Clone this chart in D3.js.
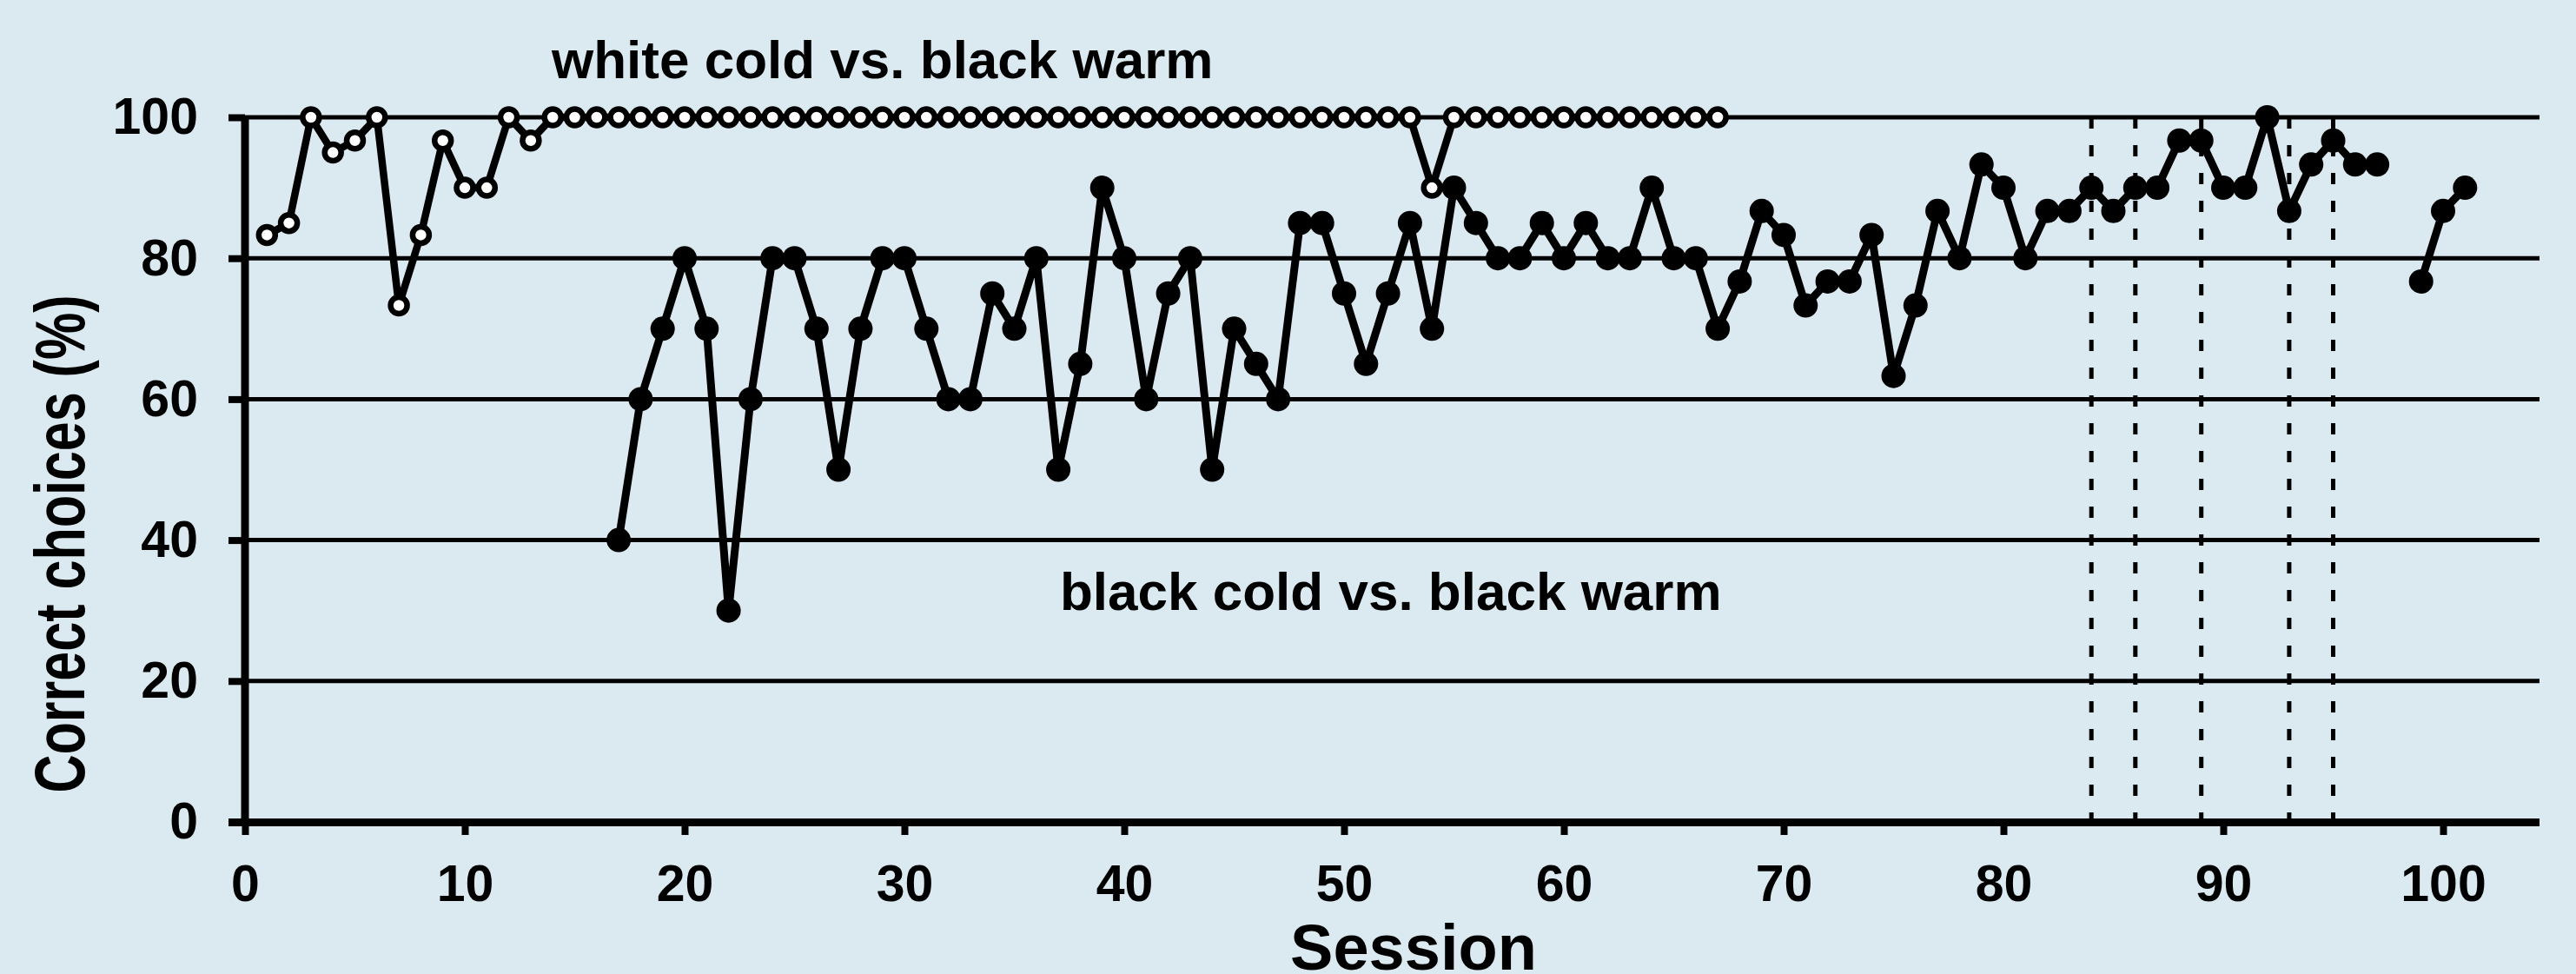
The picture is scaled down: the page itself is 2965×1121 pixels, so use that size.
<!DOCTYPE html>
<html>
<head>
<meta charset="utf-8">
<script src="https://cdn.jsdelivr.net/npm/d3@7"></script>
<style>
  body { margin: 0; background: #dbeaf0; }
  text { font-family: "Liberation Sans", Arial, sans-serif; font-weight: bold; fill: #000; }
</style>
</head>
<body>
<div id="chart"></div>
<script>
// session ticks / y ticks
var xTicks = [0, 10, 20, 30, 40, 50, 60, 70, 80, 90, 100];
var yTicks = [0, 20, 40, 60, 80, 100];

// white cold vs. black warm, sessions 1..67
var whiteStart = 1;
var whiteValues = [83.3, 85, 100, 95, 96.7, 100, 73.3, 83.3, 96.7, 90,
  90, 100, 96.7, 100, 100, 100, 100, 100, 100, 100,
  100, 100, 100, 100, 100, 100, 100, 100, 100, 100,
  100, 100, 100, 100, 100, 100, 100, 100, 100, 100,
  100, 100, 100, 100, 100, 100, 100, 100, 100, 100,
  100, 100, 100, 90, 100, 100, 100, 100, 100, 100,
  100, 100, 100, 100, 100, 100, 100];

// black cold vs. black warm, sessions 17..101 (no session 98)
var blackStart = 17;
var blackValues = [40, 60, 70, 80, 70, 30, 60, 80, 80, 70,
  50, 70, 80, 80, 70, 60, 60, 75, 70, 80,
  50, 65, 90, 80, 60, 75, 80, 50, 70, 65,
  60, 85, 85, 75, 65, 75, 85, 70, 90, 85,
  80, 80, 85, 80, 85, 80, 80, 90, 80, 80,
  70, 76.7, 86.7, 83.3, 73.3, 76.7, 76.7, 83.3, 63.3, 73.3,
  86.7, 80, 93.3, 90, 80, 86.7, 86.7, 90, 86.7, 90,
  90, 96.7, 96.7, 90, 90, 100, 86.7, 93.3, 96.7, 93.3,
  93.3, null, 76.7, 86.7, 90];

// dotted vertical markers
var markerSessions = [84, 86, 89, 93, 95];

var W = 2965, H = 1121;
var axisEnd = 2923;

var svg = d3.select("#chart").append("svg")
    .attr("width", W)
    .attr("height", H);

svg.append("rect")
    .attr("width", W)
    .attr("height", H)
    .attr("fill", "#dbeaf0");

var x = d3.scaleLinear().domain([0, 100]).range([282, 2812]);
var y = d3.scaleLinear().domain([0, 100]).range([946, 135]);

var white = whiteValues.map(function(v, i) { return {s: whiteStart + i, v: v}; });
var black = blackValues.map(function(v, i) { return {s: blackStart + i, v: v}; });

// gridlines
svg.append("g")
  .selectAll("line")
  .data(yTicks.filter(function(d) { return d > 0; }))
  .enter().append("line")
    .attr("x1", x(0))
    .attr("x2", axisEnd)
    .attr("y1", function(d) { return y(d); })
    .attr("y2", function(d) { return y(d); })
    .attr("stroke", "#000")
    .attr("stroke-width", 5);

// dotted lines
svg.append("g")
  .selectAll("line")
  .data(markerSessions)
  .enter().append("line")
    .attr("x1", function(d) { return x(d); })
    .attr("x2", function(d) { return x(d); })
    .attr("y1", y(100))
    .attr("y2", y(0))
    .attr("stroke", "#000")
    .attr("stroke-width", 5)
    .attr("stroke-dasharray", "13,19");

// y axis
var yAxis = svg.append("g")
    .attr("transform", "translate(" + x(0) + ",0)")
    .call(d3.axisLeft(y).tickValues(yTicks).tickSize(19).tickPadding(35));
yAxis.select(".domain").remove();
yAxis.selectAll(".tick line").attr("stroke", "#000").attr("stroke-width", 8);
yAxis.selectAll(".tick text")
    .attr("font-size", 59)
    .attr("font-family", "Liberation Sans, Arial, sans-serif")
    .attr("font-weight", "bold");

// x axis
var xAxis = svg.append("g")
    .attr("transform", "translate(0," + y(0) + ")")
    .call(d3.axisBottom(x).tickValues(xTicks).tickSize(15).tickPadding(34));
xAxis.select(".domain").remove();
xAxis.selectAll(".tick line").attr("stroke", "#000").attr("stroke-width", 8);
xAxis.selectAll(".tick text")
    .attr("font-size", 59)
    .attr("font-family", "Liberation Sans, Arial, sans-serif")
    .attr("font-weight", "bold");

// axis lines
svg.append("line")
    .attr("x1", 263).attr("x2", axisEnd)
    .attr("y1", y(0) + 0.5).attr("y2", y(0) + 0.5)
    .attr("stroke", "#000").attr("stroke-width", 9);
svg.append("line")
    .attr("x1", x(0)).attr("x2", x(0))
    .attr("y1", y(100) - 2).attr("y2", y(0))
    .attr("stroke", "#000").attr("stroke-width", 9);

var line = d3.line()
    .defined(function(d) { return d.v !== null; })
    .x(function(d) { return x(d.s); })
    .y(function(d) { return y(d.v); });

// black series
svg.append("path")
    .datum(black)
    .attr("fill", "none")
    .attr("stroke", "#000")
    .attr("stroke-width", 9)
    .attr("stroke-linejoin", "round")
    .attr("d", line);

svg.append("g")
  .selectAll("circle")
  .data(black.filter(function(d) { return d.v !== null; }))
  .enter().append("circle")
    .attr("cx", function(d) { return x(d.s); })
    .attr("cy", function(d) { return y(d.v); })
    .attr("r", 14)
    .attr("fill", "#000");

// white series
svg.append("path")
    .datum(white)
    .attr("fill", "none")
    .attr("stroke", "#000")
    .attr("stroke-width", 8.5)
    .attr("stroke-linejoin", "round")
    .attr("d", line);

svg.append("g")
  .selectAll("circle")
  .data(white)
  .enter().append("circle")
    .attr("cx", function(d) { return x(d.s); })
    .attr("cy", function(d) { return y(d.v); })
    .attr("r", 9.5)
    .attr("fill", "#fff")
    .attr("stroke", "#000")
    .attr("stroke-width", 6.5);

// labels
svg.append("text")
    .attr("x", 635)
    .attr("y", 90)
    .attr("font-size", 62)
    .text("white cold vs. black warm");

svg.append("text")
    .attr("x", 1220)
    .attr("y", 702)
    .attr("font-size", 62)
    .text("black cold vs. black warm");

svg.append("text")
    .attr("x", 1627)
    .attr("y", 1116)
    .attr("font-size", 74)
    .style("text-anchor", "middle")
    .text("Session");

svg.append("text")
    .attr("transform", "translate(97,626) rotate(-90)")
    .attr("font-size", 82)
    .attr("textLength", 573)
    .attr("lengthAdjust", "spacingAndGlyphs")
    .style("text-anchor", "middle")
    .text("Correct choices (%)");
</script>
</body>
</html>
